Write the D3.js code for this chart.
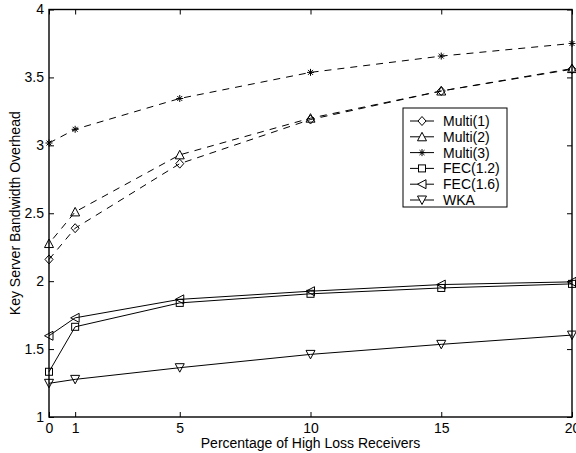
<!DOCTYPE html>
<html>
<head>
<meta charset="utf-8">
<script src="https://cdn.jsdelivr.net/npm/d3@7"></script>
<style>
  body { margin: 0; background: #fff; }
  svg { display: block; font-family: "Liberation Sans", Arial, sans-serif; }
</style>
</head>
<body>
<div id="chart"></div>
<script>
// data
var xValues = [0, 1, 5, 10, 15, 20];
var multi1 = [2.16, 2.39, 2.865, 3.19, 3.40, 3.56];
var multi2 = [2.277, 2.51, 2.93, 3.20, 3.40, 3.565];
var multi3 = [3.017, 3.118, 3.345, 3.537, 3.657, 3.75];
var fec12 = [1.333, 1.664, 1.84, 1.907, 1.95, 1.98];
var fec16 = [1.598, 1.73, 1.866, 1.926, 1.975, 1.995];
var wka = [1.248, 1.277, 1.363, 1.461, 1.535, 1.603];
var seriesNames = ["Multi(1)", "Multi(2)", "Multi(3)", "FEC(1.2)", "FEC(1.6)", "WKA"];
var xTicks = [0, 1, 5, 10, 15, 20];
var yTicks = [1, 1.5, 2, 2.5, 3, 3.5, 4];

var series = [
  {name: seriesNames[0], values: multi1, dash: "7,6", offset: 0, marker: "diamond"},
  {name: seriesNames[1], values: multi2, dash: "7,6", offset: 6.5, marker: "up"},
  {name: seriesNames[2], values: multi3, dash: "7,6", offset: 0, marker: "star"},
  {name: seriesNames[3], values: fec12, dash: null, marker: "square"},
  {name: seriesNames[4], values: fec16, dash: null, marker: "left"},
  {name: seriesNames[5], values: wka, dash: null, marker: "down"}
];

var W = 576, H = 453;
var plotL = 49, plotR = 572, plotT = 9.5, plotB = 417;

var svg = d3.select("#chart").append("svg")
  .attr("width", W)
  .attr("height", H);

var x = d3.scaleLinear().domain([0, 20]).range([plotL, plotR]);
var y = d3.scaleLinear().domain([1, 4]).range([plotB, plotT]);

// axes, matlab style ticks inward on all sides
svg.append("g")
  .attr("transform", "translate(0," + plotB + ")")
  .call(d3.axisBottom(x).tickValues(xTicks).tickSizeInner(-5).tickSizeOuter(0).tickPadding(6).tickFormat(d3.format("d")));
svg.append("g")
  .attr("transform", "translate(0," + plotT + ")")
  .call(d3.axisTop(x).tickValues(xTicks).tickSizeInner(-5).tickSizeOuter(0).tickFormat(""));
svg.append("g")
  .attr("transform", "translate(" + plotL + ",0)")
  .call(d3.axisLeft(y).tickValues(yTicks).tickSizeInner(-5).tickSizeOuter(0).tickPadding(5).tickFormat(function(d) { return String(d); }));
svg.append("g")
  .attr("transform", "translate(" + plotR + ",0)")
  .call(d3.axisRight(y).tickValues(yTicks).tickSizeInner(-5).tickSizeOuter(0).tickFormat(""));

svg.selectAll(".domain").remove();
svg.selectAll(".tick line").attr("stroke", "#000");
svg.selectAll(".tick text")
  .attr("fill", "#000")
  .style("font-size", "14px")
  .style("font-family", "Liberation Sans, Arial, sans-serif");

svg.append("rect")
  .attr("x", plotL)
  .attr("y", plotT)
  .attr("width", plotR - plotL)
  .attr("height", plotB - plotT)
  .attr("fill", "none")
  .attr("stroke", "#000")
  .attr("stroke-width", 1.4);

svg.append("text")
  .attr("x", (plotL + plotR) / 2)
  .attr("y", 448)
  .attr("text-anchor", "middle")
  .style("font-size", "14px")
  .text("Percentage of High Loss Receivers");

svg.append("text")
  .attr("transform", "translate(20," + ((plotT + plotB) / 2) + ") rotate(-90)")
  .attr("text-anchor", "middle")
  .style("font-size", "14px")
  .text("Key Server Bandwidth Overhead");

// markers
function drawMarker(g, type, cx, cy) {
  var s = 4;
  if (type == "diamond") {
    g.append("path").attr("d", "M" + cx + "," + (cy - s - 0.5) + "L" + (cx + s) + "," + cy + "L" + cx + "," + (cy + s + 0.5) + "L" + (cx - s) + "," + cy + "Z");
  } else if (type == "up") {
    g.append("path").attr("d", "M" + cx + "," + (cy - s - 0.5) + "L" + (cx + s + 0.5) + "," + (cy + s) + "L" + (cx - s - 0.5) + "," + (cy + s) + "Z");
  } else if (type == "down") {
    g.append("path").attr("d", "M" + cx + "," + (cy + s + 0.5) + "L" + (cx + s + 0.5) + "," + (cy - s) + "L" + (cx - s - 0.5) + "," + (cy - s) + "Z");
  } else if (type == "left") {
    g.append("path").attr("d", "M" + (cx - s - 0.5) + "," + cy + "L" + (cx + s) + "," + (cy - s - 0.5) + "L" + (cx + s) + "," + (cy + s + 0.5) + "Z");
  } else if (type == "square") {
    g.append("rect").attr("x", cx - 3.5).attr("y", cy - 3.5).attr("width", 7).attr("height", 7);
  } else if (type == "star") {
    var r = 3.5, d = "";
    for (var k = 0; k < 4; k++) {
      var a = k * Math.PI / 4;
      d += "M" + (cx - r * Math.cos(a)) + "," + (cy - r * Math.sin(a)) + "L" + (cx + r * Math.cos(a)) + "," + (cy + r * Math.sin(a));
    }
    g.append("path").attr("d", d);
  }
}

var line = d3.line()
  .x(function(d) { return x(d[0]); })
  .y(function(d) { return y(d[1]); });

series.forEach(function(s) {
  var pts = xValues.map(function(v, i) { return [v, s.values[i]]; });
  svg.append("path")
    .datum(pts)
    .attr("d", line)
    .attr("fill", "none")
    .attr("stroke", "#000")
    .attr("stroke-width", 1)
    .attr("stroke-dasharray", s.dash)
    .attr("stroke-dashoffset", s.offset || 0);
  var g = svg.append("g")
    .attr("fill", "none")
    .attr("stroke", "#000")
    .attr("stroke-width", 1);
  pts.forEach(function(p) { drawMarker(g, s.marker, x(p[0]), y(p[1])); });
});

// legend
var legend = svg.append("g");
legend.append("rect")
  .attr("x", 403)
  .attr("y", 108)
  .attr("width", 104)
  .attr("height", 99)
  .attr("fill", "#fff")
  .attr("stroke", "#000")
  .attr("stroke-width", 1);

series.forEach(function(s, i) {
  var ly = 121 + i * 15.8;
  legend.append("line")
    .attr("x1", 410).attr("x2", 434)
    .attr("y1", ly).attr("y2", ly)
    .attr("stroke", "#000")
    .attr("stroke-width", 1);
  var g = legend.append("g")
    .attr("fill", "#fff")
    .attr("stroke", "#000")
    .attr("stroke-width", 1);
  drawMarker(g, s.marker, 422, ly);
  legend.append("text")
    .attr("x", 443)
    .attr("y", ly + 5)
    .style("font-size", "14px")
    .text(s.name);
});
</script>
</body>
</html>
